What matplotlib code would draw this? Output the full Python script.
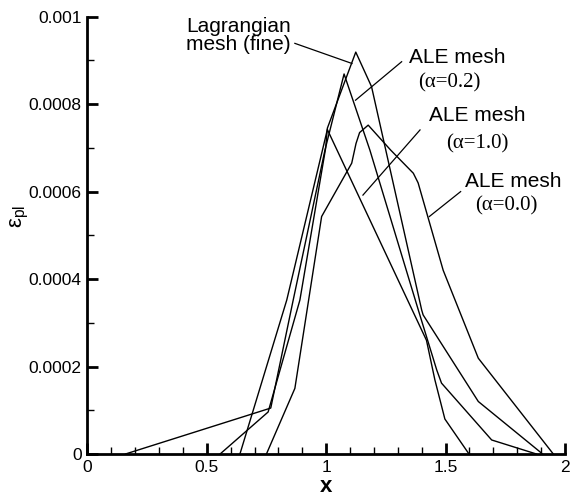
import matplotlib
matplotlib.use('Agg')
import matplotlib.pyplot as plt
from matplotlib.ticker import FixedLocator, MultipleLocator

# ---- data ----
lag_x = [0.556, 0.757, 0.890, 0.998, 1.005, 1.124, 1.190, 1.400, 1.406, 1.553, 1.637, 1.895, 1.905]
lag_y = [0.0, 0.000096, 0.000352, 0.000700, 0.000745, 0.000919, 0.000840, 0.000329, 0.000318,
         0.000192, 0.000120, 0.000005, 0.0]

a02_x = [0.160, 0.768, 0.862, 0.995, 1.075, 1.183, 1.386, 1.463, 1.483, 1.693, 1.880]
a02_y = [0.0, 0.000105, 0.000352, 0.000695, 0.000869, 0.000695, 0.000329, 0.000192, 0.000162,
         0.000032, 0.0]

a10_x = [0.639, 0.835, 1.005, 1.420, 1.455, 1.497, 1.598]
a10_y = [0.0, 0.000352, 0.000742, 0.000260, 0.000170, 0.000080, 0.0]

a00_x = [0.750, 0.869, 0.981, 1.107, 1.125, 1.140, 1.176, 1.270, 1.365, 1.385, 1.490, 1.637, 1.951]
a00_y = [0.0, 0.000150, 0.000543, 0.000665, 0.000710, 0.000735, 0.000752, 0.000695, 0.000642,
         0.000620, 0.000420, 0.000219, 0.0]

x_ticks = [0, 0.5, 1, 1.5, 2]
x_ticklabels = ['0', '0.5', '1', '1.5', '2']
y_ticks = [0, 0.0002, 0.0004, 0.0006, 0.0008, 0.001]
y_ticklabels = ['0', '0.0002', '0.0004', '0.0006', '0.0008', '0.001']

sans = 'Liberation Sans'
serif = 'Liberation Serif'
plt.rcParams['font.family'] = [sans, 'DejaVu Sans']
plt.rcParams['mathtext.fontset'] = 'custom'
plt.rcParams['mathtext.rm'] = sans

fig = plt.figure(figsize=(5.76, 4.98), dpi=100)
ax = fig.add_axes([0.1516, 0.0884, 0.8293, 0.8781])

for xs, ys in [(lag_x, lag_y), (a02_x, a02_y), (a10_x, a10_y), (a00_x, a00_y)]:
    ax.plot(xs, ys, color='black', lw=1.0, clip_on=False)

ax.set_xlim(0, 2)
ax.set_ylim(0, 0.001)

for s in ['top', 'right']:
    ax.spines[s].set_visible(False)
for s in ['left', 'bottom']:
    ax.spines[s].set_linewidth(2.0)

ax.xaxis.set_major_locator(FixedLocator(x_ticks))
ax.xaxis.set_ticklabels(x_ticklabels)
ax.yaxis.set_major_locator(FixedLocator(y_ticks))
ax.yaxis.set_ticklabels(y_ticklabels)
ax.xaxis.set_minor_locator(MultipleLocator(0.1))
ax.yaxis.set_minor_locator(MultipleLocator(0.0001))
ax.tick_params(which='major', direction='in', length=8, width=2.0, labelsize=12.5, pad=4)
ax.tick_params(which='minor', direction='in', length=5, width=1.0)
ax.tick_params(top=False, right=False, which='both')

ax.set_xlabel('x', fontsize=16, fontweight='bold', labelpad=1)
ax.set_ylabel(r'$\mathrm{ε}_{\mathrm{pl}}$', fontsize=16, va='center', ha='center')
ax.yaxis.set_label_coords(-0.140, 0.544)

# ---- annotations ----
tk = dict(fontsize=15, ha='left', va='baseline')
ax.text(0.413, 0.000966, 'Lagrangian', family=sans, **tk)
ax.text(0.413, 0.000924, 'mesh (fine)', family=sans, **tk)
ax.text(1.347, 0.000895, 'ALE mesh', family=sans, **tk)
ax.text(1.384, 0.000839, '(α=0.2)', family=serif, **tk)
ax.text(1.430, 0.000762, 'ALE mesh', family=sans, **tk)
ax.text(1.502, 0.000699, '(α=1.0)', family=serif, **tk)
ax.text(1.581, 0.000610, 'ALE mesh', family=sans, **tk)
ax.text(1.623, 0.000556, '(α=0.0)', family=serif, **tk)

leaders = [((0.869, 0.000939), (1.108, 0.000893)),
           ((1.316, 0.000897), (1.123, 0.000809)),
           ((1.393, 0.000741), (1.154, 0.000592)),
           ((1.563, 0.000600), (1.432, 0.000543))]
for (x0, y0), (x1, y1) in leaders:
    ax.plot([x0, x1], [y0, y1], color='black', lw=0.9)

fig.savefig('out.png', dpi=100)
